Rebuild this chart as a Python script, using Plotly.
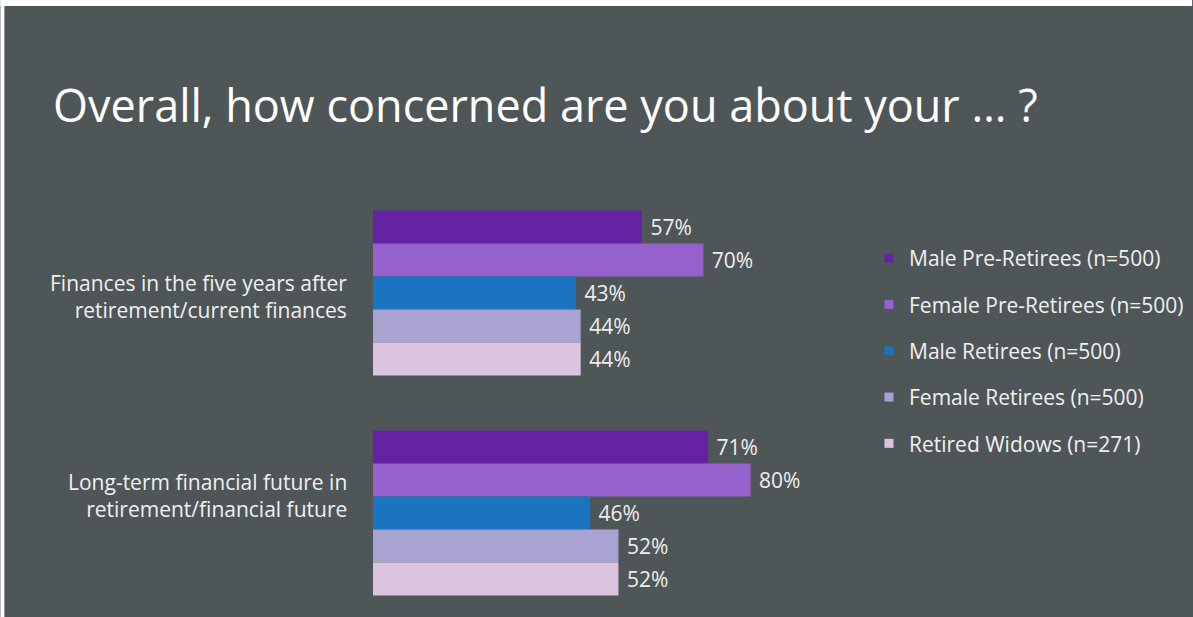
import plotly.graph_objects as go

categories = ["Finances in the five years after<br>retirement/current finances",
              "Long-term financial future in<br>retirement/financial future"]
series_names = ["Male Pre-Retirees (n=500)", "Female Pre-Retirees (n=500)",
                "Male Retirees (n=500)", "Female Retirees (n=500)",
                "Retired Widows (n=271)"]
male_pre = [57, 71]
female_pre = [70, 80]
male_ret = [43, 46]
female_ret = [44, 52]
widows = [44, 52]
series_values = [male_pre, female_pre, male_ret, female_ret, widows]
colors = ["#6222a2", "#9561cd", "#1b74bf", "#a8a3d0", "#dcc4e0"]
title_text = "Overall, how concerned are you about your \u2026 ?"

BG = "#4f5658"
FONT = "Open Sans"
W, H = 1193, 617
ML, MT, MR, MB = 373, 183, 1193 - 373 - 472.5, 17

fig = go.Figure()
ycats = [0, 1]
for name, vals, col in zip(series_names, series_values, colors):
    fig.add_trace(go.Bar(
        y=ycats, x=vals, orientation="h", name=name,
        marker=dict(color=col, line=dict(width=0)),
        text=vals, texttemplate="\u00a0%{x}%", textposition="outside",
        textfont=dict(family=FONT, size=21, color="#eeeeee"),
        cliponaxis=False, showlegend=False, hoverinfo="skip",
    ))
for i, (name, col) in enumerate(zip(series_names, colors)):
    fig.add_trace(go.Scatter(
        x=[None], y=[None], mode="markers", name=name,
        marker=dict(symbol="square", size=9, color=col),
        legendgroup=f"g{i}", showlegend=True,
    ))

label_yshift = [-3, 18]
annotations = []
for c, cat in enumerate(categories):
    annotations.append(dict(
        xref="paper", x=0, xanchor="right", xshift=-24,
        yref="y", y=ycats[c], yanchor="middle", yshift=label_yshift[c],
        text=cat, showarrow=False, align="right",
        font=dict(family=FONT, size=21, color="#f0f0f0"),
    ))

fig.update_layout(
    width=W, height=H,
    margin=dict(l=ML, r=MR, t=MT, b=MB, pad=0, autoexpand=False),
    paper_bgcolor=BG, plot_bgcolor=BG,
    barmode="group", bargap=0.25, bargroupgap=0,
    title=dict(text=title_text, xref="container", yref="container",
               x=53 / W, xanchor="left", y=1 - 106 / H, yanchor="middle",
               font=dict(family=FONT, size=45, color="#ffffff")),
    xaxis=dict(range=[0, 100], visible=False, fixedrange=True),
    yaxis=dict(range=[1.395, -0.5], visible=False, fixedrange=True),
    legend=dict(xref="container", yref="container",
                x=869 / W, xanchor="left", y=1 - 238 / H,
                yanchor="top", bgcolor="rgba(0,0,0,0)", tracegroupgap=16,
                font=dict(family=FONT, size=21, color="#f0f0f0"),
                traceorder="grouped"),
    annotations=annotations,
    shapes=[
        dict(type="rect", xref="paper", yref="paper", layer="above",
             x0=-ML / 472.5, x1=(W - ML) / 472.5,
             y0=1 + (MT - 6) / (H - MT - MB), y1=1 + MT / (H - MT - MB),
             fillcolor="#ffffff", line=dict(width=0)),
        dict(type="rect", xref="paper", yref="paper", layer="above",
             x0=-ML / 472.5, x1=-(ML - 4) / 472.5,
             y0=-MB / (H - MT - MB), y1=1 + MT / (H - MT - MB),
             fillcolor="#ffffff", line=dict(width=0)),
    ],
    font=dict(family=FONT),
)

fig.write_html("out.html")
